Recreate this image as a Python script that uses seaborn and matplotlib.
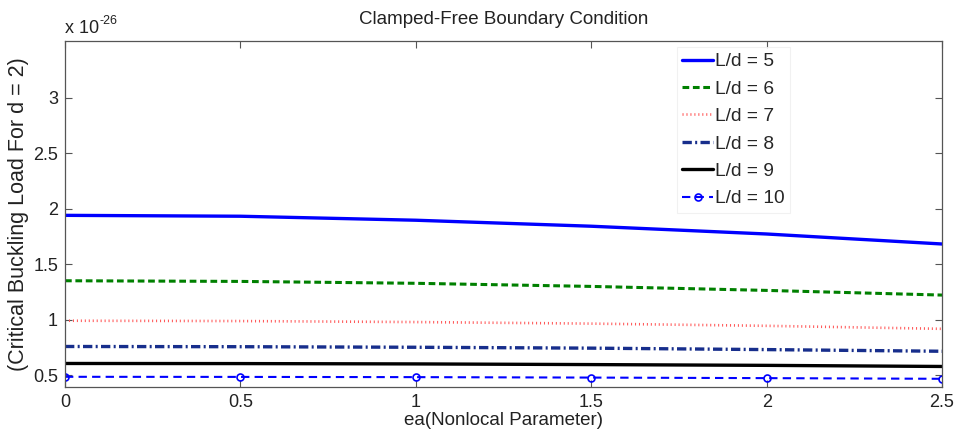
import numpy as np
import pandas as pd
import seaborn as sns
import matplotlib
matplotlib.use("Agg")
import matplotlib.pyplot as plt

# Nonlocal parameter ea and critical buckling loads (units of 1e-26)
ea = [0, 0.5, 1.0, 1.5, 2.0, 2.5]
load_ld5 = [1.940, 1.932, 1.896, 1.842, 1.772, 1.682]
load_ld6 = [1.351, 1.345, 1.328, 1.300, 1.264, 1.222]
load_ld7 = [0.991, 0.988, 0.979, 0.965, 0.945, 0.918]
load_ld8 = [0.759, 0.757, 0.752, 0.744, 0.731, 0.716]
load_ld9 = [0.606, 0.605, 0.602, 0.596, 0.589, 0.579]
load_ld10 = [0.486, 0.485, 0.483, 0.479, 0.474, 0.468]
series_labels = ["L/d = 5", "L/d = 6", "L/d = 7", "L/d = 8", "L/d = 9", "L/d = 10"]
exponent = -26

xticks = [0, 0.5, 1, 1.5, 2, 2.5]
xtick_labels = ["0", "0.5", "1", "1.5", "2", "2.5"]
yticks = [0.5, 1, 1.5, 2, 2.5, 3]
ytick_labels = ["0.5", "1", "1.5", "2", "2.5", "3"]

sns.set_theme(style="white")
plt.rcParams["font.family"] = ["Liberation Sans", "DejaVu Sans"]

frames = []
for lab, vals in zip(series_labels,
                     [load_ld5, load_ld6, load_ld7, load_ld8, load_ld9, load_ld10]):
    frames.append(pd.DataFrame({"ea": ea, "load": vals, "series": lab}))
df = pd.concat(frames, ignore_index=True)

styles = {
    "L/d = 5": dict(color=(0, 0, 1), linestyle="-", linewidth=2.4),
    "L/d = 6": dict(color=(0, 0.5, 0), linestyle=(0, (2.2, 1.2)), linewidth=2.2),
    "L/d = 7": dict(color=(1, 0.35, 0.35), linestyle=(0, (0.4, 1.1)), linewidth=1.9),
    "L/d = 8": dict(color=(0.09, 0.18, 0.55), linestyle=(0, (2.8, 1.0, 0.6, 1.0)), linewidth=2.4),
    "L/d = 9": dict(color=(0, 0, 0), linestyle="-", linewidth=2.4),
    "L/d = 10": dict(color=(0, 0, 1), linestyle=(0, (4.0, 2.5)), linewidth=1.5),
}

TXT = "#222222"
FS = 13

fig = plt.figure(figsize=(9.56, 4.33), dpi=100)
ax = fig.add_axes([0.068, 0.1062, 0.9174, 0.7991])

for lab in series_labels:
    sub = df[df["series"] == lab]
    sns.lineplot(data=sub, x="ea", y="load", ax=ax, label=lab, **styles[lab])

# open circle markers on the L/d = 10 curve
ln10 = ax.lines[-1]
ln10.set_marker("o")
ln10.set_markersize(5)
ln10.set_markerfacecolor("none")
ln10.set_markeredgecolor((0, 0, 1))
ln10.set_markeredgewidth(1.2)

ax.set_xlim(0, 2.5)
ax.set_ylim(0.394, 3.51)
ax.set_xticks(xticks)
ax.set_xticklabels(xtick_labels)
ax.set_yticks(yticks)
ax.set_yticklabels(ytick_labels)

ax.tick_params(axis="both", direction="in", length=5, width=0.8, color="#555555",
               labelsize=FS, top=True, right=True, bottom=True, left=True,
               pad=5, labelcolor=TXT)
for sp in ax.spines.values():
    sp.set_color("#555555")
    sp.set_linewidth(0.9)

ax.set_xlabel("ea(Nonlocal Parameter)", fontsize=FS + 0.5, color=TXT, labelpad=1)
ax.set_ylabel("(Critical Buckling Load For d = 2)", fontsize=15.5, color=TXT,
              labelpad=3)
ax.set_title("Clamped-Free Boundary Condition", fontsize=FS + 0.5, color=TXT, pad=12)

# axis multiplier "x 10^-26" above the top-left corner
base = ax.text(0.0, 1.012, "x 10", transform=ax.transAxes,
               fontsize=FS, color=TXT, ha="left", va="bottom")
ax.annotate("%d" % exponent, xy=(1.0, 1.0), xycoords=base,
            xytext=(0.5, -1), textcoords="offset points",
            fontsize=FS - 4, color=TXT, ha="left", va="center")

leg = ax.legend(loc="upper left", bbox_to_anchor=(0.6975, 0.982), fontsize=13.8,
                frameon=True, fancybox=False, handlelength=1.6, handletextpad=0.1,
                labelspacing=0.52, borderpad=0.3, borderaxespad=0.0)
leg.get_frame().set_edgecolor("#eeeeee")
leg.get_frame().set_linewidth(0.8)

fig.savefig("out.png", dpi=100)
